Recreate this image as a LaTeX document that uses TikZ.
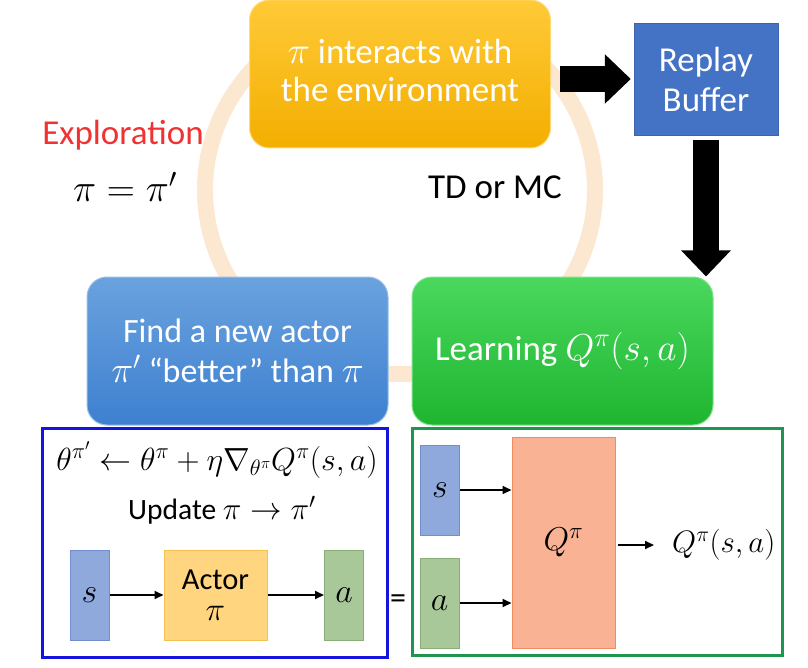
\RequirePackage{fix-cm}
\documentclass[tikz,border=0pt]{standalone}
\usepackage[no-math]{fontspec}
\setmainfont{Carlito}
\usetikzlibrary{arrows.meta}
\definecolor{ringc}{HTML}{FCE7D0}
\definecolor{ylTop}{HTML}{FFCA38}
\definecolor{ylBot}{HTML}{F3AE00}
\definecolor{blTop}{HTML}{6AA2DE}
\definecolor{blBot}{HTML}{3E80D0}
\definecolor{grTop}{HTML}{4AD85E}
\definecolor{grBot}{HTML}{1FB530}
\definecolor{rbuf}{HTML}{4472C4}
\definecolor{rbufd}{HTML}{3A64B0}
\definecolor{sfill}{HTML}{8FA9DC}
\definecolor{sdraw}{HTML}{6F8ECB}
\definecolor{afill}{HTML}{A8C89A}
\definecolor{adraw}{HTML}{88AD79}
\definecolor{actfill}{HTML}{FFD580}
\definecolor{actdraw}{HTML}{F5C04F}
\definecolor{qfill}{HTML}{F9B394}
\definecolor{qdraw}{HTML}{F28A5E}
\definecolor{frameB}{HTML}{1414DC}
\definecolor{frameG}{HTML}{1E9550}
\definecolor{expl}{HTML}{F03232}
\newcommand\msz[2]{{\fontsize{#1}{#1}\selectfont$#2$}}
\tikzset{
  bigbox/.style={rounded corners=20pt, minimum width=301pt, minimum height=148pt, inner sep=0pt,
     text=white, align=center},
  bigarrow/.style={line width=26pt, -{Triangle[length=26pt,width=48pt]}},
  thinarrow/.style={line width=2pt, -{Triangle[length=9pt,width=8pt]}},
  smallbox/.style={minimum width=39pt, minimum height=90pt, inner sep=0pt, line width=1pt,
     font=\fontsize{34}{34}\selectfont},
  plain/.style={font=\fontsize{35}{38}\selectfont},
}
\begin{document}
\begin{tikzpicture}[x=1pt,y=-1pt]
\useasboundingbox (0,0) rectangle (808,668);
% faint cycle ring
\draw[ringc, line width=16pt] (400,190) ellipse [x radius=195, y radius=184];
% top boxes
\node[bigbox, top color=ylTop, bottom color=ylBot, draw=ylTop!70!white, line width=1pt,
  font=\fontsize{35}{38}\selectfont] (env) at (400,74)
  {\msz{38}{\pi} interacts with\\the environment\rule[-8pt]{0pt}{8pt}};
\node[fill=rbuf, draw=rbufd, minimum width=144pt, minimum height=112pt, inner sep=0pt,
  text=white, align=center, font=\fontsize{35}{40}\selectfont] (buf) at (706,79) {Replay\\Buffer};
\node[bigbox, top color=grTop, bottom color=grBot, draw=grTop!70!white, line width=1pt,
  font=\fontsize{35}{38}\selectfont] (learn) at (562.5,351)
  {\rule{0pt}{6pt}Learning \msz{37.5}{Q^{\pi}(s,a)}};
\node[bigbox, top color=blTop, bottom color=blBot, draw=blTop!70!white, line width=1pt,
  font=\fontsize{34}{40}\selectfont] (find) at (237.5,351)
  {Find a new actor\\\msz{37}{\pi'} \textquotedblleft better\textquotedblright\ than \msz{37}{\pi}};
% big black arrows
\draw[bigarrow, shorten <=9pt, shorten >=3pt] (env.east |- buf.west) -- (buf.west);
\coordinate (dtip) at (buf.south |- learn.north);
\draw[bigarrow, shorten <=5pt] (buf.south) -- (dtip);
% side labels
\node[plain, text=expl] (exp) at (123,135) {Exploration};
\node[font=\fontsize{39}{39}\selectfont] (eq) at (125,187) {$\pi = \pi'$};
\node[plain] (td) at (495,187) {TD or MC};
% bottom left frame
\draw[frameB, line width=3pt] (42,428) rectangle (387,657);
\node[font=\fontsize{32}{32}\selectfont] (upd) at (217,460) {$\theta^{\pi'} \leftarrow \theta^{\pi} + \eta\nabla_{\theta^{\pi}} Q^{\pi}(s,a)$};
\node[font=\fontsize{29.5}{32}\selectfont] (updt) at (222,510) {Update \msz{31.5}{\pi \rightarrow \pi'}};
\node[smallbox, fill=sfill, draw=sdraw] (s1) at (89.5,595) {$s$};
\node[smallbox, fill=actfill, draw=actdraw, minimum width=103pt, align=center,
  font=\fontsize{30.5}{31}\selectfont] (actor) at (215.5,595) {Actor\\\msz{33}{\pi}};
\node[smallbox, fill=afill, draw=adraw] (a1) at (344,595) {$a$};
\draw[thinarrow] (s1) -- (actor);
\draw[thinarrow] (actor) -- (a1);
\node[font=\fontsize{32}{32}\selectfont] (eqs) at (398,602) {=};
% bottom right frame
\draw[frameG, line width=3pt] (412,428) rectangle (782,655);
\node[smallbox, fill=sfill, draw=sdraw] (s2) at (440,490) {$s$};
\node[smallbox, fill=afill, draw=adraw] (a2) at (439.5,603) {$a$};
\node[smallbox, fill=qfill, draw=qdraw, minimum width=103pt, minimum height=211pt,
  font=\fontsize{33}{33}\selectfont] (Q) at (563.5,542.5) {$Q^{\pi}$};
\draw[thinarrow] (s2.east) -- (s2.east -| Q.west);
\draw[thinarrow] (a2.east) -- (a2.east -| Q.west);
\node[font=\fontsize{31}{31}\selectfont, anchor=west, inner sep=2pt] (qout) at (670,545) {$Q^{\pi}(s,a)$};
\draw[thinarrow, shorten <=2pt, shorten >=16pt] (Q.east |- qout.west) -- (qout.west);
\end{tikzpicture}
\end{document}
